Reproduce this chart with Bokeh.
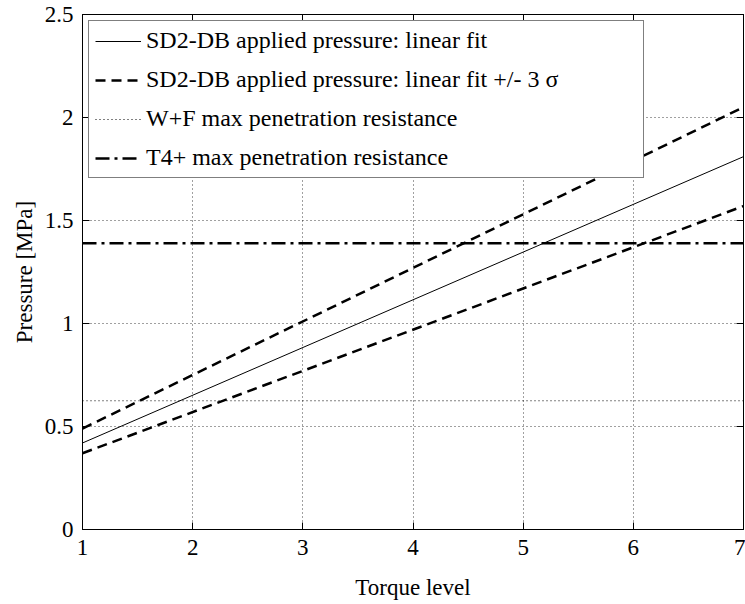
from bokeh.plotting import figure
from bokeh.models import (Range1d, FixedTicker, LinearAxis, Legend, LegendItem,
                          CustomJSTickFormatter)
from bokeh.embed import file_html
from bokeh.resources import INLINE

# ---- data ----
torque = [1, 7]
fit = [0.42, 1.81]
fit_upper = [0.49, 2.05]
fit_lower = [0.37, 1.57]
wf_max = 0.625
t4_max = 1.39

x_ticks = [1, 2, 3, 4, 5, 6, 7]
y_ticks = [0, 0.5, 1, 1.5, 2, 2.5]

labels = ["SD2-DB applied pressure: linear fit",
          "SD2-DB applied pressure: linear fit +/- 3 \u03c3",
          "W+F max penetration resistance",
          "T4+ max penetration resistance"]

FONT = "Liberation Serif"

p = figure(width=745, height=604, output_backend="svg", toolbar_location=None,
           x_range=Range1d(1, 7), y_range=Range1d(0, 2.5),
           min_border_left=82, min_border_right=2, min_border_top=14,
           min_border_bottom=75, background_fill_color="white",
           border_fill_color="white")
p.outline_line_color = "black"
p.outline_line_width = 1

fmt = CustomJSTickFormatter(code="return String(tick);")
blank = CustomJSTickFormatter(code="return '';")

for ax, ticks in ((p.xaxis[0], x_ticks), (p.yaxis[0], y_ticks)):
    ax.ticker = FixedTicker(ticks=ticks)
    ax.formatter = fmt
    ax.axis_line_color = "black"
    ax.major_tick_line_color = "black"
    ax.major_tick_in = 7
    ax.major_tick_out = 0
    ax.minor_tick_line_color = None
    ax.major_label_text_font = FONT
    ax.major_label_text_font_size = "23px"
    ax.major_label_text_color = "black"
    ax.axis_label_text_font = FONT
    ax.axis_label_text_font_size = "23px"
    ax.axis_label_text_font_style = "normal"
    ax.axis_label_text_color = "black"

p.xaxis.axis_label = "Torque level"
p.yaxis.axis_label = "Pressure [MPa]"
p.xaxis.major_label_standoff = 10
p.xaxis.axis_label_standoff = 17
p.yaxis.major_label_standoff = 9
p.yaxis.axis_label_standoff = 5

# box ticks on top and right (no labels)
for place, ticks in (("above", x_ticks), ("right", y_ticks)):
    ax = LinearAxis(ticker=FixedTicker(ticks=ticks), formatter=blank)
    ax.axis_line_color = "black"
    ax.major_tick_line_color = "black"
    ax.major_tick_in = 7
    ax.major_tick_out = 0
    ax.minor_tick_line_color = None
    ax.major_label_standoff = 0
    p.add_layout(ax, place)

p.xgrid[0].ticker = FixedTicker(ticks=x_ticks)
p.ygrid[0].ticker = FixedTicker(ticks=y_ticks)
for g in (p.xgrid[0], p.ygrid[0]):
    g.grid_line_color = "black"
    g.grid_line_dash = "1 3"
    g.grid_line_alpha = 0.75
    g.grid_line_width = 1

# ---- lines ----
r_fit = p.line(torque, fit, line_color="black", line_width=1)
r_up = p.line(torque, fit_upper, line_color="black", line_width=2.5, line_dash="10 6")
r_lo = p.line(torque, fit_lower, line_color="black", line_width=2.5, line_dash="10 6")
r_wf = p.line([torque[0], torque[-1]], [wf_max, wf_max], line_color="black",
              line_width=1, line_dash="1 3")
r_t4 = p.line([torque[0], torque[-1]], [t4_max, t4_max], line_color="black",
              line_width=2.5, line_dash="14 5 3 5")

legend = Legend(items=[LegendItem(label=labels[0], renderers=[r_fit]),
                       LegendItem(label=labels[1], renderers=[r_up]),
                       LegendItem(label=labels[2], renderers=[r_wf]),
                       LegendItem(label=labels[3], renderers=[r_t4])],
                location="top_left")
legend.label_text_font = FONT
legend.label_text_font_size = "24px"
legend.label_text_color = "black"
legend.glyph_width = 46
legend.glyph_height = 26
legend.label_height = 26
legend.label_width = 491
legend.label_standoff = 5
legend.spacing = 12
legend.padding = 6
legend.margin = 6
legend.border_line_color = "black"
legend.border_line_width = 1
legend.background_fill_color = "white"
legend.background_fill_alpha = 1
p.add_layout(legend)

open("out.html", "w").write(file_html(p, INLINE))
